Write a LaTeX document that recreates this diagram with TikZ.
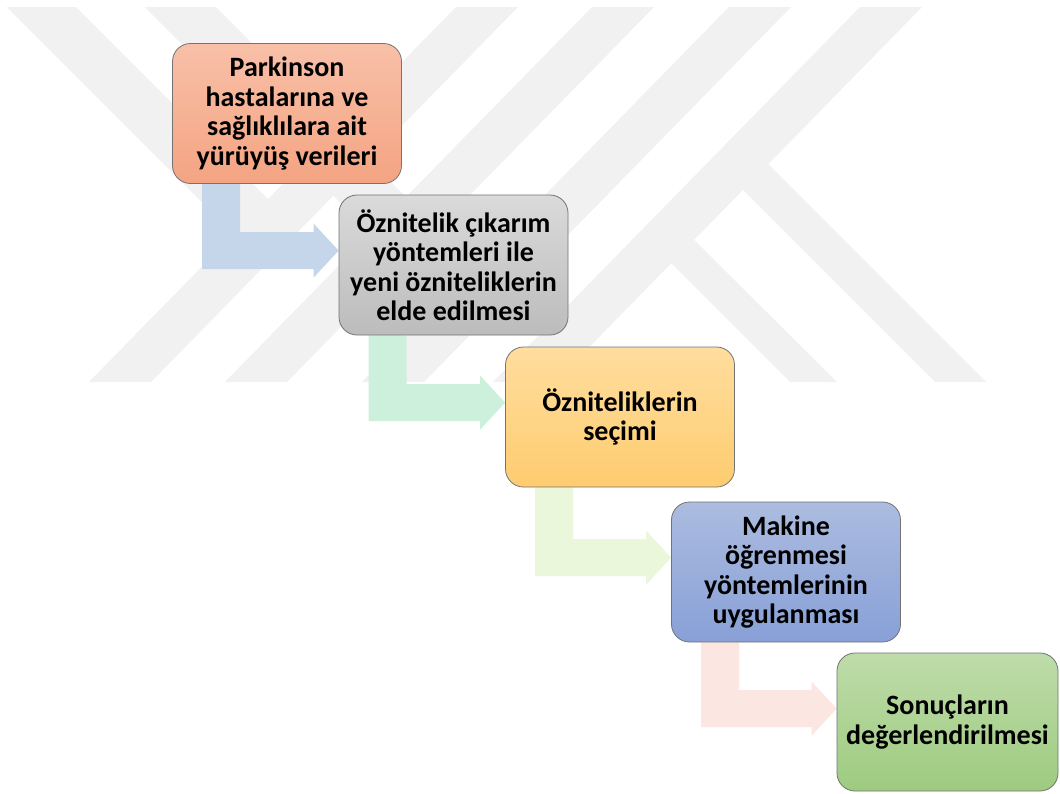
\documentclass[tikz,border=0pt]{standalone}
\usepackage{fontspec}
\setmainfont{Carlito}
\usetikzlibrary{calc}
\pgfdeclarelayer{wm}
\pgfdeclarelayer{bg}
\pgfsetlayers{wm,bg,main}
\definecolor{wmgray}{RGB}{241,241,241}
\definecolor{arA}{RGB}{197,213,234}
\definecolor{arB}{RGB}{204,240,220}
\definecolor{arC}{RGB}{235,247,219}
\definecolor{arD}{RGB}{252,230,225}
\definecolor{oTop}{RGB}{248,192,168}
\definecolor{oBot}{RGB}{244,164,130}
\definecolor{gTop}{RGB}{218,218,218}
\definecolor{gBot}{RGB}{188,188,188}
\definecolor{yTop}{RGB}{255,221,158}
\definecolor{yBot}{RGB}{254,204,112}
\definecolor{bTop}{RGB}{172,188,224}
\definecolor{bBot}{RGB}{136,160,215}
\definecolor{vTop}{RGB}{190,220,170}
\definecolor{vBot}{RGB}{158,203,128}
\tikzset{
  flowbox/.style={rounded corners=18pt, draw=black!55, line width=0.8pt,
    align=center, inner sep=0pt, text=black,
    font=\bfseries\fontsize{28}{29.5}\selectfont,
    minimum width=229pt, minimum height=140pt},
  wmband/.style={fill=wmgray}
}
\newcommand\bentarrow[3]{%
  \coordinate (#1t) at ($(#2.north west)+(0,56)$);
  \coordinate (#1a) at ($(#1.south west)+(30,0)$);
  \coordinate (#1b) at ($(#1.south west)+(68,0)$);
  \coordinate (#1u) at ($(#1t)+(0,-18.5)$);
  \coordinate (#1d) at ($(#1t)+(0,18.5)$);
  \coordinate (#1hu) at ($(#1t)+(-25,-27)$);
  \coordinate (#1hd) at ($(#1t)+(-25,27)$);
  \fill[#3] (#1a) -- (#1b) -- (#1b |- #1u) -- (#1hu |- #1u) -- (#1hu) -- (#1t)
    -- (#1hd) -- (#1hd |- #1d) -- (#1a |- #1d) -- cycle;
}
\begin{document}
\begin{tikzpicture}[x=1pt,y=-1pt]
\useasboundingbox (0,0) rectangle (1060,793);
\begin{pgfonlayer}{wm}
\fill[white] (0,0) rectangle (1060,793);
% watermark bands
\fill[wmband] (456,7) -- (518,7) -- (151,382) -- (89,382) -- cycle;
\fill[wmband] (592,7) -- (654,7) -- (287,382) -- (225,382) -- cycle;
\fill[wmband] (729,7) -- (791,7) -- (424,382) -- (362,382) -- cycle;
\fill[wmband] (860,7) -- (922,7) -- (555,382) -- (493,382) -- cycle;
\fill[wmband] (7,7) -- (76,7) -- (268,199) -- (234,234) -- cycle;
\fill[wmband] (145,7) -- (216,7) -- (406,197) -- (371,233) -- cycle;
\fill[wmband] (694,240) -- (837,382) -- (790,382) -- (671,263) -- cycle;
\fill[wmband] (768,164) -- (986,382) -- (935,382) -- (743,190) -- cycle;
\end{pgfonlayer}

\node[flowbox, top color=oTop, bottom color=oBot] (b1) at (287,113.5)
  {Parkinson\\hastalarına ve\\sağlıklılara ait\\yürüyüş verileri};
\node[flowbox, top color=gTop, bottom color=gBot] (b2) at (453.5,265)
  {Öznitelik çıkarım\\yöntemleri ile\\yeni özniteliklerin\\elde edilmesi};
\node[flowbox, top color=yTop, bottom color=yBot] (b3) at (620,417)
  {Özniteliklerin\\seçimi};
\node[flowbox, top color=bTop, bottom color=bBot] (b4) at (786,572)
  {Makine\\öğrenmesi\\yöntemlerinin\\uygulanması};
\node[flowbox, top color=vTop, bottom color=vBot, minimum width=221pt, minimum height=138pt] (b5) at (947.5,722)
  {Sonuçların\\değerlendirilmesi};

\begin{pgfonlayer}{bg}
\bentarrow{b1}{b2}{arA}
\bentarrow{b2}{b3}{arB}
\bentarrow{b3}{b4}{arC}
\bentarrow{b4}{b5}{arD}
\end{pgfonlayer}
\end{tikzpicture}
\end{document}
